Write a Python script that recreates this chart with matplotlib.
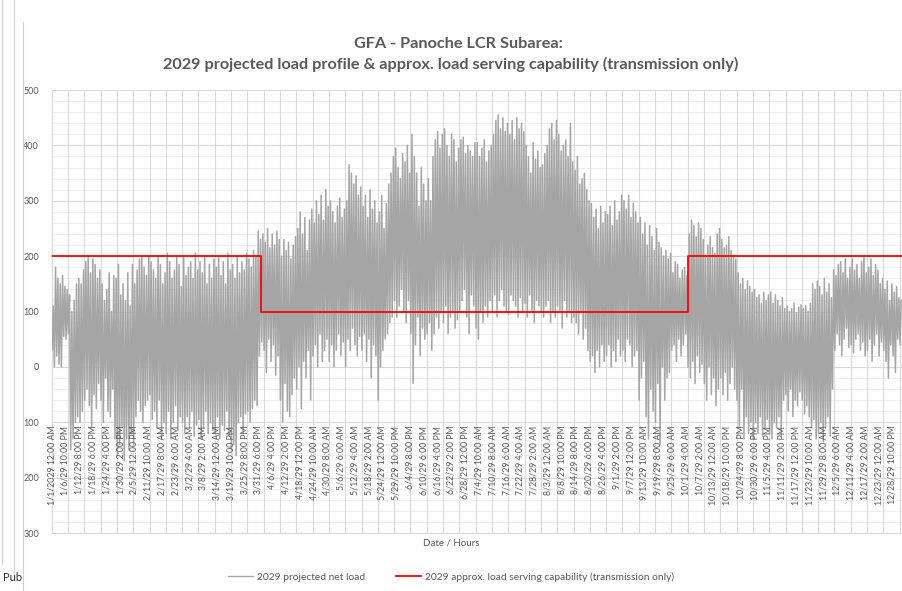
import numpy as np
import matplotlib.pyplot as plt
from matplotlib.lines import Line2D

# daily peak / trough of the hourly net load (MW), one row per week
daily_high = [
    110, 180, 160, 150, 165, 145, 140,
    130, 100, 120, 150, 160, 150, 175,
    190, 200, 170, 195, 185, 160, 175,
    150, 120, 140, 170, 100, 165, 160,
    185, 130, 150, 120, 170, 110, 185,
    150, 175, 195, 200, 180, 165, 200,
    190, 175, 160, 200, 185, 150, 170,
    205, 190, 160, 175, 200, 185, 145,
    200, 165, 180, 190, 160, 205, 175,
    190, 170, 200, 150, 185, 160, 195,
    180, 200, 165, 190, 150, 205, 175,
    185, 160, 200, 170, 190, 175, 205,
    195, 180, 210, 200, 245, 230, 240,
    225, 250, 215, 240, 220, 245, 230,
    200, 230, 210, 225, 195, 220, 235,
    250, 280, 240, 270, 210, 265, 285,
    260, 300, 275, 310, 265, 320, 290,
    300, 280, 260, 290, 305, 270, 285,
    300, 365, 350, 330, 345, 310, 325,
    290, 310, 270, 320, 285, 300, 260,
    280, 310, 250, 295, 330, 350, 380,
    395, 360, 340, 385, 370, 400, 350,
    420, 380, 350, 290, 360, 330, 300,
    340, 300, 380, 410, 425, 395, 420,
    430, 400, 380, 420, 410, 370, 395,
    410, 415, 385, 400, 390, 380, 405,
    405, 380, 395, 410, 370, 390, 400,
    420, 445, 455, 430, 450, 425, 440,
    420, 445, 410, 450, 430, 440, 425,
    400, 380, 350, 405, 375, 390, 360,
    365, 385, 400, 430, 440, 410, 445,
    420, 390, 400, 410, 380, 440, 370,
    355, 380, 330, 340, 350, 320, 300,
    295, 270, 285, 250, 290, 260, 280,
    275, 290, 255, 300, 265, 280, 310,
    300, 285, 310, 270, 295, 280, 260,
    270, 240, 260, 220, 255, 235, 210,
    250, 225, 215, 200, 210, 195, 205,
    170, 190, 185, 160, 175, 180, 165,
    240, 265, 255, 235, 260, 250, 230,
    200, 220, 235, 215, 205, 240, 250,
    230, 215, 220, 235, 210, 200, 195,
    170, 150, 160, 140, 155, 145, 135,
    140, 125, 130, 115, 135, 120, 130,
    135, 115, 130, 120, 110, 125, 105,
    110, 100, 105, 115, 98, 108, 112,
    105, 110, 100, 115, 150, 140, 155,
    145, 130, 160, 135, 150, 125, 175,
    165, 185, 190, 170, 195, 160, 180,
    195, 175, 185, 160, 190, 200, 170,
    180, 195, 165, 185, 175, 150, 160,
    140, 155, 120, 150, 135, 145, 125,
    120,
]
daily_low = [
    30, 0, 20, 5, 0, 55, 50,
    60, -150, -130, -100, -90, -100, -80,
    -60, -40, -70, -110, -50, -75, -30,
    -60, -100, -20, -80, -90, -40, -130,
    -160, -140, -110, -170, -130, -150, -120,
    -140, -90, -60, -80, -100, -70, -60,
    -50, -95, -80, -110, -60, -130, -100,
    -120, -80, -130, -100, -70, -115, -90,
    -100, -120, -90, -110, -80, -125, -105,
    -95, -130, -110, -80, -120, -100, -115,
    -120, -90, -130, -105, -115, -80, -125,
    -150, -140, -160, -100, -90, -120, -85,
    -80, -100, -75, -60, -70, 20, 45,
    30, -10, 50, 10, 40, -15, 20,
    -60, -100, -30, -80, -90, -50, -20,
    -40, 0, -75, 10, -20, 30, -60,
    20, 40, 0, 60, 10, 30, 50,
    10, 40, 0, 30, 60, 20, 45,
    0, 50, 30, 70, 40, 20, 55,
    30, 60, 10, 50, -20, 40, 20,
    -60, 0, 30, 50, 60, 80, 90,
    120, 90, 110, 140, 100, 80, 120,
    60, -30, 40, 90, 20, 70, 50,
    60, 80, 30, 60, 90, 70, 100,
    80, 110, 60, 90, 100, 70, 85,
    100, 120, 140, 90, 60, 130, 110,
    70, 50, 100, 80, 110, 90, 120,
    100, 130, 90, 120, 140, 110, 100,
    95, 130, 120, 110, 90, 125, 100,
    115, 90, 130, 100, 80, 120, 110,
    100, 90, 110, 120, 80, 100, 90,
    110, 100, 70, 120, 90, 100, 80,
    90, 80, 60, 100, 50, 70, 30,
    10, 20, -10, 30, 0, 40, 10,
    20, 40, 0, 30, 10, 50, 20,
    30, 10, 50, 40, 0, 20, 30,
    -60, -20, 10, -90, -130, -40, -80,
    -100, -30, -140, 0, -60, -20, -10,
    30, 40, 10, 50, 20, 40, 60,
    0, -20, 10, -30, 20, -10, 5,
    -30, -60, 0, -50, -20, -70, -40,
    -20, -50, -10, -60, -30, 0, -40,
    -60, -110, -40, -130, -90, -120, -100,
    -130, -100, -120, -90, -125, -110, -95,
    -120, -130, -100, -110, -90, -125, -60,
    -50, -80, -40, -90, -60, -70, -45,
    -60, -85, -70, -90, -110, -95, -130,
    -120, -100, -135, -110, -90, -125, -40,
    30, 60, 40, 20, 50, 70, 35,
    40, 25, 50, 60, 30, 45, 20,
    30, 50, 10, 40, 60, 20, 45,
    30, 10, -20, 40, 20, -10, 50,
    40,
]

# load serving capability: level and the hour where each level starts
cap_levels = [200, 100, 200]
cap_start_hour = [0, 2160, 6552]
year_hours = 8760

tick_labels = [
    "1/1/2029 12:00 AM", "1/6/29 10:00 PM", "1/12/29 8:00 PM", "1/18/29 6:00 PM",
    "1/24/29 4:00 PM", "1/30/29 2:00 PM", "2/5/29 12:00 PM", "2/11/29 10:00 AM",
    "2/17/29 8:00 AM", "2/23/29 6:00 AM", "3/2/29 4:00 AM", "3/8/29 2:00 AM",
    "3/14/29 12:00 AM", "3/19/29 10:00 PM", "3/25/29 8:00 PM", "3/31/29 6:00 PM",
    "4/6/29 4:00 PM", "4/12/29 2:00 PM", "4/18/29 12:00 PM", "4/24/29 10:00 AM",
    "4/30/29 8:00 AM", "5/6/29 6:00 AM", "5/12/29 4:00 AM", "5/18/29 2:00 AM",
    "5/24/29 12:00 AM", "5/29/29 10:00 PM", "6/4/29 8:00 PM", "6/10/29 6:00 PM",
    "6/16/29 4:00 PM", "6/22/29 2:00 PM", "6/28/29 12:00 PM", "7/4/29 10:00 AM",
    "7/10/29 8:00 AM", "7/16/29 6:00 AM", "7/22/29 4:00 AM", "7/28/29 2:00 AM",
    "8/3/29 12:00 AM", "8/8/29 10:00 PM", "8/14/29 8:00 PM", "8/20/29 6:00 PM",
    "8/26/29 4:00 PM", "9/1/29 2:00 PM", "9/7/29 12:00 PM", "9/13/29 10:00 AM",
    "9/19/29 8:00 AM", "9/25/29 6:00 AM", "10/1/29 4:00 AM", "10/7/29 2:00 AM",
    "10/13/29 12:00 AM", "10/18/29 10:00 PM", "10/24/29 8:00 PM", "10/30/29 6:00 PM",
    "11/5/29 4:00 PM", "11/11/29 2:00 PM", "11/17/29 12:00 PM", "11/23/29 10:00 AM",
    "11/29/29 8:00 AM", "12/5/29 6:00 AM", "12/11/29 4:00 AM", "12/17/29 2:00 AM",
    "12/23/29 12:00 AM", "12/28/29 10:00 PM",
]
label_every = 142
grid_every = 168

y_ticks = [500, 400, 300, 200, 100, 0, -100, -200, -300]
y_tick_labels = ["500", "400", "300", "200", "100", "0", "100", "200", "300"]

plt.rcParams['font.family'] = ['Lato', 'DejaVu Sans']
txt = '#595959'

fig = plt.figure(figsize=(9.02, 5.91), dpi=100)
ax = fig.add_axes([0.0573, 0.0981, 0.9427, 0.7496])

# trough early morning, peak afternoon
days = np.arange(len(daily_high))
hx = np.column_stack([days * 24 + 4, days * 24 + 16]).ravel()
hy = np.column_stack([daily_low, daily_high]).ravel()
ax.plot(hx, hy, color='#a5a5a5', lw=1.1, zorder=3)

ax.step(cap_start_hour + [year_hours], cap_levels + [cap_levels[-1]],
        where='post', color='#ff0000', lw=1.3, zorder=4)

ax.set_xlim(0, year_hours)
ax.set_ylim(-300, 500)

# grid like the Excel chart
for v in range(-300, 501, 20):
    ax.axhline(v, color='#d9d9d9' if v % 100 == 0 else '#efefef', lw=0.8, zorder=1)
for h in range(grid_every, year_hours, grid_every):
    ax.axvline(h, color='#d9d9d9', lw=0.8, zorder=1)

ax.set_yticks(y_ticks)
ax.set_yticklabels(y_tick_labels, fontsize=6.5, color=txt)
ax.tick_params(axis='y', length=0, pad=9)
ax.set_xticks([])
for s in ['top', 'right']:
    ax.spines[s].set_visible(False)
for s in ['left', 'bottom']:
    ax.spines[s].set_color('#d9d9d9')

for i, lab in enumerate(tick_labels):
    ax.text(i * label_every, -106, lab, rotation=90, ha='center', va='top',
            fontsize=6.3, color=txt, zorder=5)

fig.text(0.508, 0.925, "GFA - Panoche LCR Subarea:", ha='center', va='center',
         fontsize=11.7, fontweight='bold', color=txt)
fig.text(0.5, 0.891, "2029 projected load profile & approx. load serving capability (transmission only)",
         ha='center', va='center', fontsize=11.7, fontweight='bold', color=txt)
fig.text(0.5, 0.081, "Date / Hours", ha='center', va='center', fontsize=7, color=txt)

handles = [Line2D([], [], color='#a5a5a5', lw=1.0),
           Line2D([], [], color='#ff0000', lw=1.3)]
fig.legend(handles, ["2029 projected net load",
                     "2029 approx. load serving capability (transmission only)"],
           loc='center', bbox_to_anchor=(0.5, 0.024), ncol=2, frameon=False,
           fontsize=7.4, handlelength=2.4, columnspacing=3.0, handletextpad=0.4,
           labelcolor=txt)

# pieces of the surrounding window in the screenshot
fig.add_artist(Line2D([0.002, 0.002], [0.045, 1.0], color='#d0d0d0', lw=0.8))
fig.add_artist(Line2D([0.016, 0.016], [0.02, 1.0], color='#d0d0d0', lw=0.8))
fig.add_artist(Line2D([0.026, 0.026], [0.0, 0.963], color='#d0d0d0', lw=0.8))
fig.text(0.003, 0.022, "Pub", fontsize=8, color='#333333', va='center')

fig.savefig("out.png", dpi=100)
